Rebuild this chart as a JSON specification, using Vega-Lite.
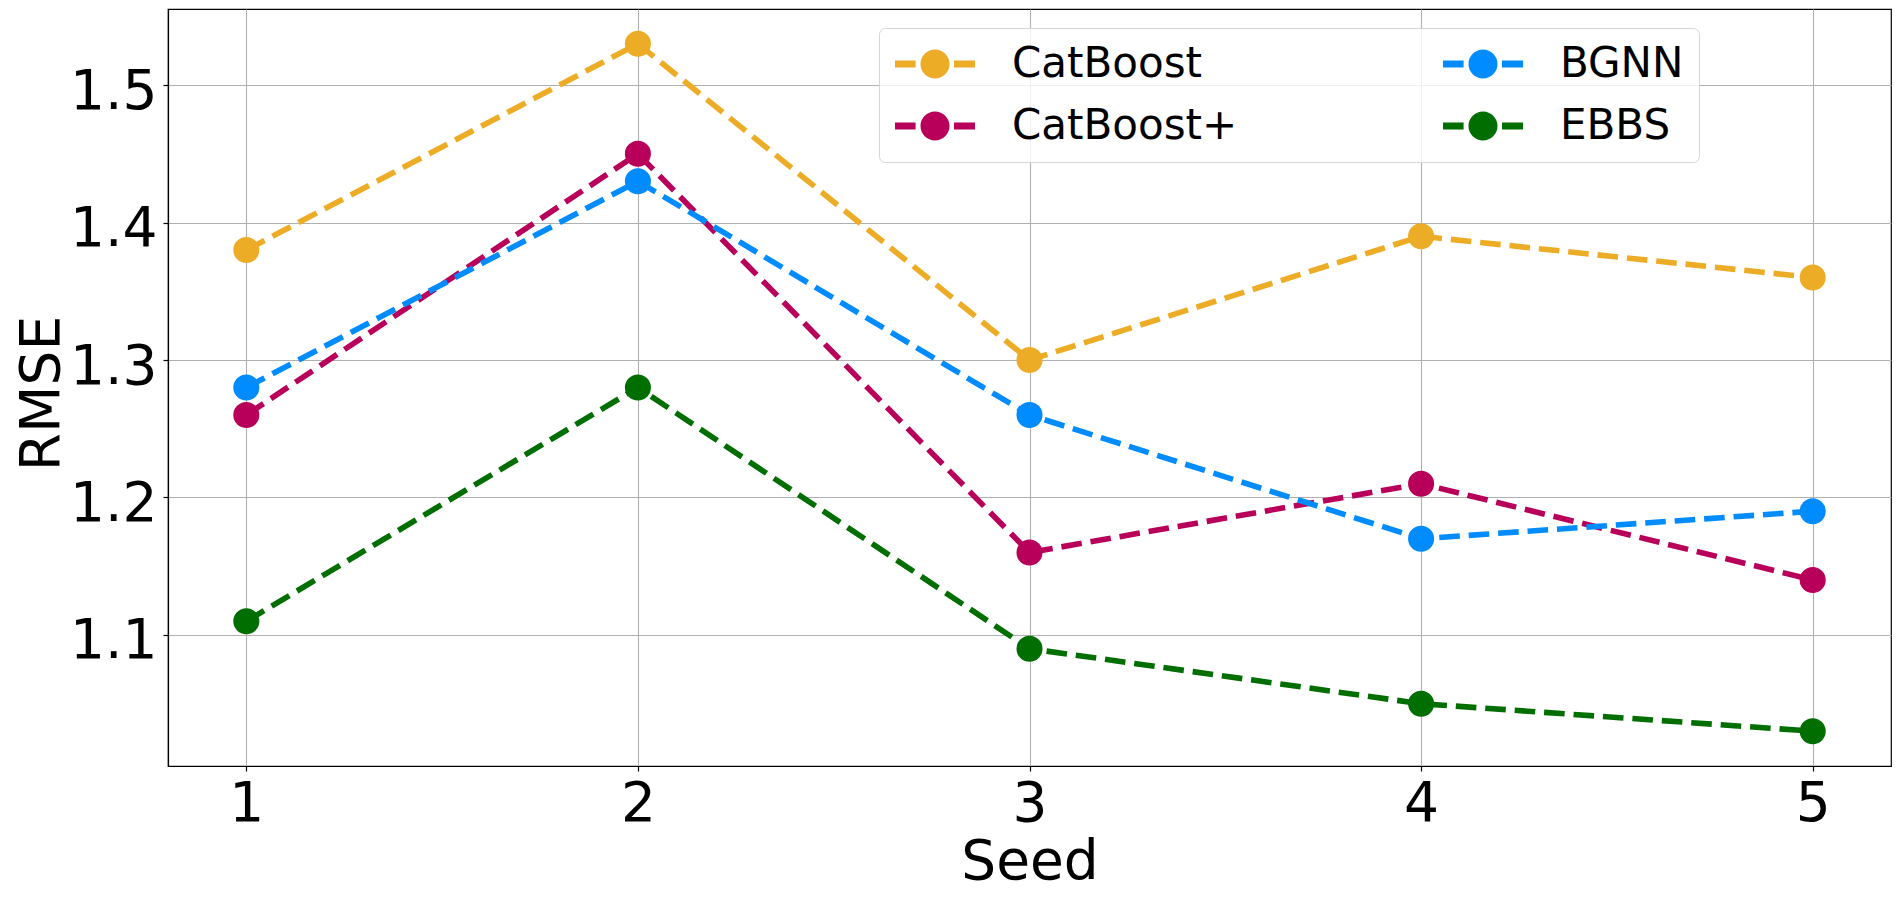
{
  "$schema": "https://vega.github.io/schema/vega-lite/v6.json",
  "width": 1723,
  "height": 757,
  "autosize": {"type": "none"},
  "padding": {"left": 168, "top": 9, "right": 9, "bottom": 133},
  "background": "white",
  "config": {
    "font": "DejaVu Sans",
    "view": {"stroke": "black", "strokeWidth": 1.2},
    "axis": {
      "labelFont": "DejaVu Sans",
      "labelFontSize": 55,
      "labelColor": "black",
      "titleFont": "DejaVu Sans",
      "titleFontSize": 55,
      "titleFontWeight": "normal",
      "titleColor": "black",
      "tickColor": "black",
      "tickSize": 5,
      "tickWidth": 1.2,
      "domainColor": "black",
      "domainWidth": 1.2,
      "gridColor": "#b0b0b0",
      "gridWidth": 1.1,
      "labelPadding": 6,
      "labelFlush": false,
      "labelOverlap": false
    }
  },
  "data": {
    "values": [
      {"seed": 1, "model": "CatBoost", "rmse": 1.38},
      {"seed": 2, "model": "CatBoost", "rmse": 1.53},
      {"seed": 3, "model": "CatBoost", "rmse": 1.30},
      {"seed": 4, "model": "CatBoost", "rmse": 1.39},
      {"seed": 5, "model": "CatBoost", "rmse": 1.36},
      {"seed": 1, "model": "CatBoost+", "rmse": 1.26},
      {"seed": 2, "model": "CatBoost+", "rmse": 1.45},
      {"seed": 3, "model": "CatBoost+", "rmse": 1.16},
      {"seed": 4, "model": "CatBoost+", "rmse": 1.21},
      {"seed": 5, "model": "CatBoost+", "rmse": 1.14},
      {"seed": 1, "model": "BGNN", "rmse": 1.28},
      {"seed": 2, "model": "BGNN", "rmse": 1.43},
      {"seed": 3, "model": "BGNN", "rmse": 1.26},
      {"seed": 4, "model": "BGNN", "rmse": 1.17},
      {"seed": 5, "model": "BGNN", "rmse": 1.19},
      {"seed": 1, "model": "EBBS", "rmse": 1.11},
      {"seed": 2, "model": "EBBS", "rmse": 1.28},
      {"seed": 3, "model": "EBBS", "rmse": 1.09},
      {"seed": 4, "model": "EBBS", "rmse": 1.05},
      {"seed": 5, "model": "EBBS", "rmse": 1.03}
    ]
  },
  "encoding": {
    "x": {
      "field": "seed",
      "type": "quantitative",
      "scale": {"domain": [0.8, 5.2], "nice": false, "zero": false},
      "axis": {
        "values": [1, 2, 3, 4, 5],
        "format": "d",
        "title": "Seed",
        "titleBaseline": "alphabetic",
        "titleY": 112
      }
    },
    "y": {
      "field": "rmse",
      "type": "quantitative",
      "scale": {"domain": [1.0047, 1.5553], "nice": false, "zero": false},
      "axis": {
        "values": [1.1, 1.2, 1.3, 1.4, 1.5],
        "format": ".1f",
        "title": "RMSE",
        "labelOffset": 6,
        "titleAngle": -90,
        "titleBaseline": "bottom",
        "titleX": -98,
        "titleY": 384
      }
    },
    "color": {
      "field": "model",
      "type": "nominal",
      "scale": {
        "domain": ["CatBoost", "CatBoost+", "BGNN", "EBBS"],
        "range": ["#EDAC26", "#B8005A", "#008CFF", "#006E00"]
      },
      "legend": {
        "title": null,
        "orient": "none",
        "legendX": 711,
        "legendY": 19,
        "columns": 2,
        "columnPadding": 204,
        "rowPadding": 20,
        "padding": 15,
        "fillColor": "rgba(255,255,255,0.8)",
        "strokeColor": "#d5d5d5",
        "cornerRadius": 6,
        "symbolType": "M-1,-0.17H0.03V0.17H-1Z M1.95,-0.17H3V0.17H1.95Z M0.275,0A0.725,0.725,0,1,0,1.725,0A0.725,0.725,0,1,0,0.275,0Z",
        "symbolSize": 1600,
        "symbolStrokeWidth": 0,
        "symbolOpacity": 1,
        "labelFont": "DejaVu Sans",
        "labelFontSize": 42,
        "labelColor": "black",
        "labelOffset": 76,
        "labelLimit": 0,
        "encode": {
          "symbols": {
            "update": {
              "fill": {"scale": "color", "field": "value"},
              "opacity": {"value": 1}
            }
          }
        }
      }
    }
  },
  "layer": [
    {
      "mark": {"type": "line", "strokeWidth": 5.6, "strokeDash": [20.6, 8.9]}
    },
    {
      "mark": {"type": "point", "shape": "circle", "filled": true, "size": 680, "opacity": 1},
      "encoding": {
        "order": {"field": "rmse", "sort": "descending"}
      }
    }
  ]
}
